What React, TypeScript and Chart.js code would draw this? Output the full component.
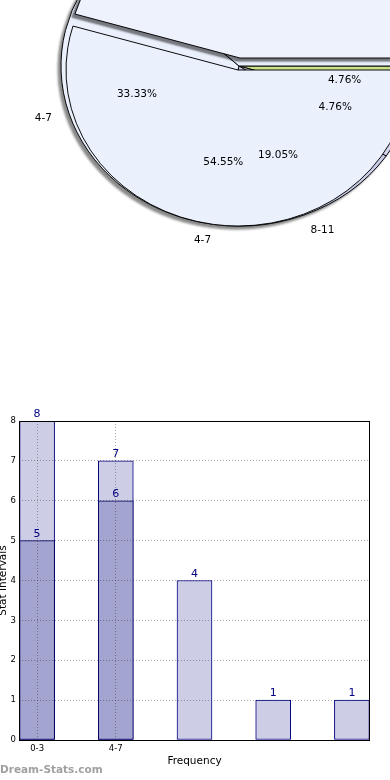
import React, { useEffect, useRef } from 'react';
import { Chart, registerables } from 'chart.js';

Chart.register(...registerables);

// ---- Data ----
// Front pie (two slices; the second one is pulled out)
const pieFrontValues = [6, 5];
const pieFrontLabels = ['4-7', '0-3'];
// Back pie (five slices)
const pieBackValues = [1, 1, 4, 7, 8];
const pieBackLabels = ['12-15', '16-19', '8-11', '4-7', '0-3'];

// Bar chart
const barXValues = [0, 1, 2, 3, 4];
const barTotals = [8, 7, 4, 1, 1];
const barSubset: (number | null)[] = [5, 6, null, null, null];
const xTickLabels = ['0-3', '4-7'];
const yMin = 0;
const yMax = 8;

const FAMILY = "'DejaVu Sans', sans-serif";
const CLEAR = 'rgba(0,0,0,0)';

function ellipsePlugin(sy: number, shadow: boolean) {
  return {
    id: 'ellipse',
    beforeDatasetsDraw(chart: any) {
      const arc = chart.getDatasetMeta(0).data[0];
      const ctx = chart.ctx;
      ctx.save();
      ctx.translate(arc.x, arc.y);
      ctx.scale(1, sy);
      ctx.translate(-arc.x, -arc.y);
      if (shadow) {
        ctx.shadowColor = 'rgba(0,0,0,0.5)';
        ctx.shadowOffsetX = -3;
        ctx.shadowOffsetY = 3;
        ctx.shadowBlur = 2;
      }
    },
    afterDatasetsDraw(chart: any) {
      chart.ctx.restore();
    },
  };
}

function drawPieLabels(
  ctx: any,
  meta: any,
  values: number[],
  labels: string[],
  sy: number,
  shift: { dx: number; dy: number },
  only?: number[]
) {
  const total = values.reduce((a, b) => a + b, 0);
  ctx.save();
  ctx.font = `10.5px ${FAMILY}`;
  ctx.fillStyle = '#000';
  meta.data.forEach((arc: any, i: number) => {
    if (only && only.indexOf(i) < 0) return;
    const mid = (arc.startAngle + arc.endAngle) / 2;
    const r = arc.outerRadius;
    const cx = arc.x + shift.dx;
    const cy = arc.y + shift.dy;
    ctx.textAlign = 'center';
    ctx.textBaseline = 'middle';
    ctx.fillText(
      ((values[i] / total) * 100).toFixed(2) + '%',
      cx + Math.cos(mid) * r * 0.6,
      cy + Math.sin(mid) * r * 0.6 * sy
    );
    ctx.textAlign = Math.cos(mid) > 0 ? 'left' : 'right';
    ctx.fillText(labels[i], cx + Math.cos(mid) * r * 1.1, cy + Math.sin(mid) * r * 1.1 * sy);
  });
  ctx.restore();
}

// canvas placement (pie centres on the page)
const BACK_POS = { left: -11, top: -184 };
const FRONT_POS = { left: -12, top: -180 };
const PULLED_POS = { left: -10, top: -192 };

export default function App() {
  const shadowRef = useRef<HTMLCanvasElement>(null);
  const backRef = useRef<HTMLCanvasElement>(null);
  const pulledRef = useRef<HTMLCanvasElement>(null);
  const frontRef = useRef<HTMLCanvasElement>(null);
  const barRef = useRef<HTMLCanvasElement>(null);

  useEffect(() => {
    document.body.style.margin = '0';
    Chart.defaults.font.family = FAMILY;

    const R_BACK = 178;
    const SY_BACK = 160 / R_BACK;
    const R_FRONT = 172;
    const SY_FRONT = 156 / R_FRONT;
    const pieOptions = (rotation: number, radius: number) =>
      ({
        responsive: false,
        animation: false,
        events: [],
        rotation,
        radius,
        layout: { padding: 0 },
        plugins: { legend: { display: false }, tooltip: { enabled: false } },
      } as any);

    // soft shadow of the back pie
    const shadow = new Chart(shadowRef.current!, {
      type: 'pie',
      data: {
        labels: pieBackLabels,
        datasets: [
          {
            data: pieBackValues,
            backgroundColor: '#8a8a8a',
            borderColor: '#8a8a8a',
            borderWidth: 1,
            hoverOffset: 0,
          } as any,
        ],
      },
      options: pieOptions(90, R_BACK),
      plugins: [ellipsePlugin(SY_BACK, false)],
    });

    const back = new Chart(backRef.current!, {
      type: 'pie',
      data: {
        labels: pieBackLabels,
        datasets: [
          {
            data: pieBackValues,
            backgroundColor: ['#c8e38c', '#d2d5ec', '#c9cce6', '#eaf0fc', '#eaf0fc'],
            borderColor: '#000',
            borderWidth: 1,
            hoverOffset: 0,
          } as any,
        ],
      },
      options: pieOptions(90, R_BACK),
      plugins: [ellipsePlugin(SY_BACK, false)],
    });

    // the pulled-out slice of the front pie, on its own shifted canvas
    const pulled = new Chart(pulledRef.current!, {
      type: 'pie',
      data: {
        labels: pieFrontLabels,
        datasets: [
          {
            data: pieFrontValues,
            backgroundColor: [CLEAR, '#eef2fc'],
            borderColor: [CLEAR, '#000'],
            borderWidth: 1,
            hoverOffset: 0,
          } as any,
        ],
      },
      options: pieOptions(90, R_FRONT),
      plugins: [
        ellipsePlugin(SY_FRONT, true),
        {
          id: 'pulledLabels',
          afterDraw(chart: any) {
            drawPieLabels(chart.ctx, chart.getDatasetMeta(0), pieFrontValues, pieFrontLabels, SY_FRONT, { dx: 0, dy: 0 }, [1]);
          },
        },
      ],
    });

    const front = new Chart(frontRef.current!, {
      type: 'pie',
      data: {
        labels: pieFrontLabels,
        datasets: [
          {
            data: pieFrontValues,
            backgroundColor: ['#eaf0fc', CLEAR],
            borderColor: ['#000', CLEAR],
            borderWidth: 1,
            hoverOffset: 0,
          } as any,
        ],
      },
      options: pieOptions(90, R_FRONT),
      plugins: [
        ellipsePlugin(SY_FRONT, false),
        {
          id: 'frontLabels',
          afterDraw(chart: any) {
            // back pie labels, translated from the back canvas into this one
            drawPieLabels(chart.ctx, back.getDatasetMeta(0), pieBackValues, pieBackLabels, SY_BACK, {
              dx: BACK_POS.left - FRONT_POS.left,
              dy: BACK_POS.top - FRONT_POS.top,
            });
            drawPieLabels(chart.ctx, chart.getDatasetMeta(0), pieFrontValues, pieFrontLabels, SY_FRONT, { dx: 0, dy: 0 }, [0]);
          },
        },
      ],
    });

    const framePlugin = {
      id: 'frame',
      afterDraw(chart: any) {
        const { ctx, chartArea } = chart;
        ctx.save();
        ctx.strokeStyle = '#000';
        ctx.lineWidth = 1;
        ctx.strokeRect(
          Math.round(chartArea.left) + 0.5,
          Math.round(chartArea.top) + 0.5,
          Math.round(chartArea.right - chartArea.left) - 1,
          Math.round(chartArea.bottom - chartArea.top)
        );
        ctx.restore();
      },
    };

    const valuePlugin = {
      id: 'values',
      afterDraw(chart: any) {
        const ctx = chart.ctx;
        ctx.save();
        ctx.font = `11px ${FAMILY}`;
        ctx.fillStyle = '#000080';
        ctx.textAlign = 'center';
        ctx.textBaseline = 'bottom';
        chart.data.datasets.forEach((ds: any, di: number) => {
          const meta = chart.getDatasetMeta(di);
          meta.data.forEach((bar: any, j: number) => {
            ctx.fillText(String(ds.data[j].y), bar.x, bar.y - 1);
          });
        });
        ctx.restore();
      },
    };

    const gridColor = 'rgba(0,0,0,0.32)';

    const bar = new Chart(barRef.current!, {
      type: 'bar',
      data: {
        datasets: [
          {
            label: 'subset',
            data: barXValues
              .map((x, i) => (barSubset[i] == null ? null : { x, y: barSubset[i] }))
              .filter((d) => d !== null) as any,
            backgroundColor: '#a4a4d0',
            borderColor: '#000066',
            borderWidth: 1,
            borderSkipped: false,
            barThickness: 35,
            maxBarThickness: 35,
            grouped: false,
          } as any,
          {
            label: 'total',
            data: barXValues.map((x, i) => ({ x, y: barTotals[i] })) as any,
            backgroundColor: '#cdcde6',
            borderColor: '#000080',
            borderWidth: 1,
            borderSkipped: false,
            barThickness: 35,
            maxBarThickness: 35,
            grouped: false,
          } as any,
        ],
      },
      options: {
        responsive: false,
        animation: false,
        events: [],
        layout: { padding: { top: 21, right: 20, left: 0, bottom: 0 } },
        plugins: { legend: { display: false }, tooltip: { enabled: false } },
        scales: {
          x: {
            type: 'linear',
            min: -0.23,
            max: 4.23,
            offset: false,
            afterBuildTicks: (s: any) => {
              s.ticks = xTickLabels.map((_, i) => ({ value: barXValues[i] }));
            },
            afterFit: (s: any) => {
              s.height = 40;
            },
            ticks: {
              callback: (_v: any, i: number) => xTickLabels[i],
              font: { size: 8.5, family: FAMILY },
              color: '#000',
              padding: 4,
              autoSkip: false,
              maxRotation: 0,
            },
            grid: { color: gridColor, drawTicks: false, lineWidth: 1, offset: false, z: 1 },
            border: { display: false, dash: [1, 2] },
            title: {
              display: true,
              text: 'Frequency',
              font: { size: 10.5, family: FAMILY },
              color: '#000',
              padding: { top: 0, bottom: 12.7 },
            },
          },
          y: {
            min: yMin,
            max: yMax,
            afterFit: (s: any) => {
              s.width = 19;
            },
            ticks: {
              stepSize: 1,
              font: { size: 8.5, family: FAMILY },
              color: '#000',
              padding: 3,
            },
            grid: { color: gridColor, drawTicks: false, lineWidth: 1, z: 1 },
            border: { display: false, dash: [1, 2] },
            title: {
              display: true,
              text: 'Stat Intervals',
              font: { size: 10.5, family: FAMILY },
              color: '#000',
              padding: { top: -3.3, bottom: 0 },
            },
          },
        },
      } as any,
      plugins: [framePlugin, valuePlugin],
    });

    return () => {
      bar.destroy();
      front.destroy();
      pulled.destroy();
      back.destroy();
      shadow.destroy();
    };
  }, []);

  const abs = (p: { left: number; top: number }, extra: any = {}) => ({
    position: 'absolute' as const,
    left: p.left,
    top: p.top,
    ...extra,
  });

  return (
    <div style={{ position: 'relative', width: 390, height: 780, overflow: 'hidden', background: '#fff' }}>
      <canvas
        ref={shadowRef}
        width={500}
        height={500}
        style={abs({ left: BACK_POS.left - 3, top: BACK_POS.top + 3 }, { filter: 'blur(1px)' })}
      />
      <canvas ref={backRef} width={500} height={500} style={abs(BACK_POS)} />
      <canvas ref={pulledRef} width={500} height={500} style={abs(PULLED_POS)} />
      <canvas ref={frontRef} width={500} height={500} style={abs(FRONT_POS)} />
      <canvas ref={barRef} width={390} height={380} style={{ position: 'absolute', left: 0, top: 400 }} />
      <div
        style={{
          position: 'absolute',
          left: 0,
          top: 762,
          font: `bold 10.5px ${FAMILY}`,
          color: '#a0a0a0',
          lineHeight: '14px',
          whiteSpace: 'nowrap',
        }}
      >
        Dream-Stats.com
      </div>
    </div>
  );
}
